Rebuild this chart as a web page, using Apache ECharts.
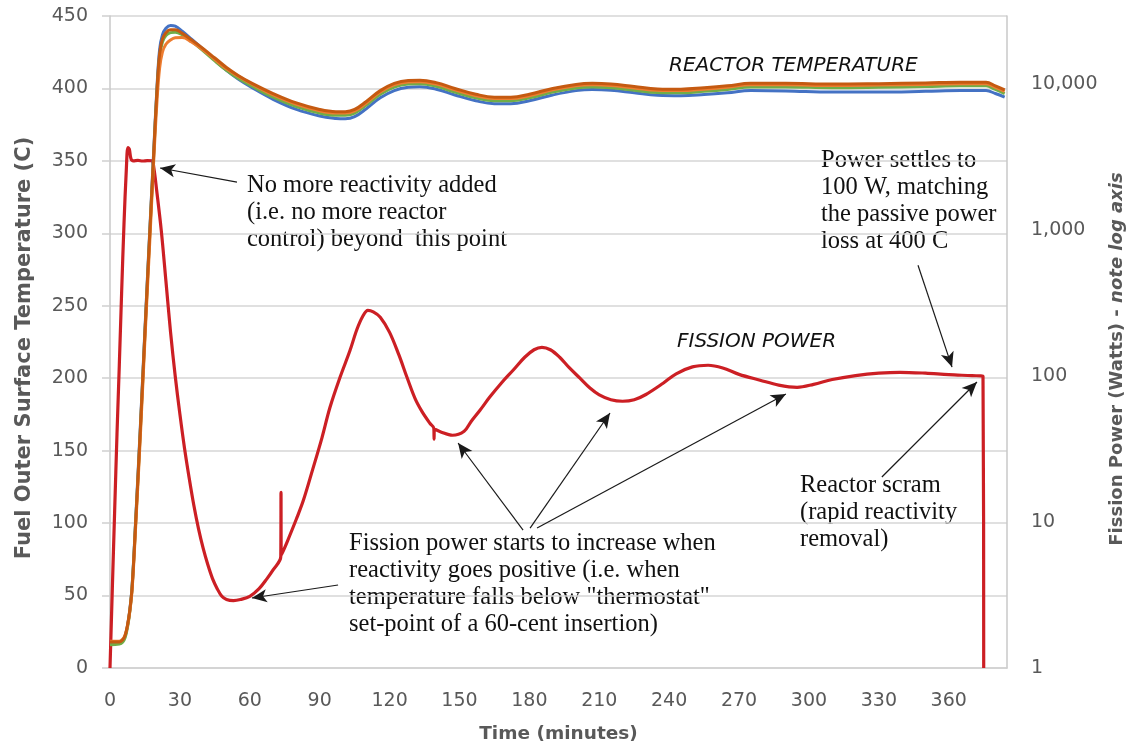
<!DOCTYPE html>
<html>
<head>
<meta charset="utf-8">
<script src="https://cdn.jsdelivr.net/npm/echarts@6/dist/echarts.min.js"></script>
<style>html,body{margin:0;padding:0;background:#fff;}#c{width:1131px;height:748px;}</style>
</head>
<body>
<div id="c"></div>
<script>
// ---- data (time in minutes) ----
const fissionPower = [[0,1],[1,3.5],[2,12],[3,40],[4,120],[5,380],[6,1100],[7,2600],[7.7,3700],[8.3,3600],[9,3100],[10,3000],[12,3020],[14,2990],[16,3010],[18,3000],[18.8,2700],[20,1900],[22,1000],[24,450],[26,200],[28,100],[30,55],[32,32],[34,20],[36,13],[38,9],[40,6.6],[42,5.1],[44,4.1],[46,3.5],[48,3.1],[50,2.95],[53,2.9],[56,2.95],[60,3.1],[64,3.5],[67.4,4.1],[70,4.7],[73.3,5.8],[73.4,16],[73.5,5.9],[76,7.3],[80,10.5],[83,14.1],[87,23],[91,38],[94.4,61],[98.7,98],[103,150],[106,210],[108.5,258],[110.7,283],[113,276],[116,254],[120,200],[124,140],[127.5,98],[131,70],[134,57],[137.3,47.6],[139,44],[139.1,37],[139.2,43.5],[142,41.5],[147,39.4],[152,42],[155,49],[158.8,58.5],[163,72],[168,90],[173,110],[178,135],[182,152],[185.4,158],[189,152],[193,135],[197,115],[201.7,97],[206,83],[210,74.5],[215,69],[220,67.4],[225,69],[230,75],[237.4,89.6],[243,104],[250,116],[256.7,119],[263,114],[270,103],[279,94],[287,87],[294.9,84],[302,88],[310,95],[320,101],[330,105],[339,106.5],[350,105],[360,102.5],[370,101],[374.7,100],[375,1]];

const tempBlue = [[0,17],[4,17.5],[5.5,19],[6.5,22],[7.5,29],[8.5,40],[9.5,57],[11,102],[13,166],[15,234],[17,300],[18.7,355],[20.2,402],[21.3,427],[22.5,437],[24,441.5],[26,443.5],[28,443],[31,439.5],[35,434],[40,427],[45,419.5],[50,412.5],[55,406.5],[61,400.5],[70,392.5],[80,385.5],[90,381],[97,379.3],[101,379],[105,380.5],[110,386],[116,393.5],[122,398.5],[128,400.8],[133,401.2],[140,399.5],[148,395.5],[157,391.5],[165,389.5],[172,389.5],[180,391.5],[190,395.5],[200,398.5],[207,399.3],[215,398.8],[225,397],[235,395.3],[245,395],[255,395.8],[265,397],[275,398.5],[290,398.3],[310,397.5],[330,397.5],[350,398],[365,398.5],[376,398.5],[380,396.5],[384,394]];

const tempGreen = [[0,16],[4,16.5],[5.5,18],[6.5,21],[7.5,28],[8.5,39],[9.5,56],[11,100],[13,163],[15,231],[17,297],[18.7,352],[20.2,399],[21.3,422],[22.5,432],[24,436.5],[26,438.5],[28,438.8],[31,437],[35,432.5],[40,426],[45,419],[50,412.5],[55,407],[61,401.5],[70,394],[80,387.5],[90,383],[97,381.5],[101,381.5],[105,383],[110,388.5],[116,396],[122,401],[128,403],[133,403.2],[140,401.5],[148,397.5],[157,393.5],[165,391.5],[172,391.5],[180,393.5],[190,397.5],[200,400.3],[207,401],[215,400.5],[225,398.8],[235,397.2],[245,397],[255,398],[265,399.3],[275,401],[290,401],[310,400.5],[330,400.8],[350,401.3],[365,401.8],[376,401.8],[380,399.3],[384,396.5]];

const tempOrange = [[0,18.5],[4,18.5],[5.5,20],[6.5,23],[7.5,29],[8.5,39],[9.5,54],[11,97],[13,159],[15,227],[17,292],[18.7,348],[20.2,392],[21.3,414],[22.5,425],[24,430.5],[26,433.5],[28,435],[31,435.2],[35,432],[40,426.5],[45,420],[50,413.5],[55,408.5],[61,403],[70,395.5],[80,389],[90,384.5],[97,383],[101,383],[105,384.5],[110,390],[116,397.5],[122,402.5],[128,404.5],[133,404.7],[140,403],[148,399],[157,395],[165,393],[172,393],[180,395],[190,399],[200,401.8],[207,402.5],[215,402],[225,400.3],[235,398.7],[245,398.5],[255,399.5],[265,400.8],[275,402.5],[290,402.5],[310,402],[330,402.3],[350,402.8],[365,403.3],[376,403.3],[380,400.8],[384,398]];

const tempBrown = [[0,18],[4,18],[5.5,19.5],[6.5,22.5],[7.5,29.5],[8.5,40],[9.5,56],[11,100],[13,164],[15,232],[17,298],[18.7,353],[20.2,400],[21.3,424],[22.5,434],[24,438.5],[26,440.5],[28,440.5],[31,438],[35,433.5],[40,427.5],[45,421],[50,414.5],[55,409],[61,403.5],[70,396.5],[80,390],[90,385.5],[97,384],[101,384],[105,385.5],[110,391],[116,398.5],[122,403.5],[128,405.5],[133,405.7],[140,404],[148,400],[157,396],[165,394],[172,394],[180,396],[190,400],[200,402.8],[207,403.5],[215,403],[225,401.3],[235,399.7],[245,399.5],[255,400.5],[265,401.8],[275,403.5],[290,403.5],[310,403],[330,403.3],[350,403.8],[365,404.3],[376,404.3],[380,401.8],[384,399]];

// annotation arrows: [tail(time, temp), head(time, temp)] in left-axis data space
const arrows = [
  [[54.5,335.4],[21.5,345.1]],
  [[346.8,278],[361.4,207.7]],
  [[331.3,131.8],[372.1,197.4]],
  [[177.3,95.2],[149.4,155.3]],
  [[180.3,96.6],[214.6,176]],
  [[183.3,96.6],[290.1,189.1]],
  [[97.9,57.3],[60.9,48.3]]
];

const notes = {
  control: 'No more reactivity added\n(i.e. no more reactor\ncontrol) beyond  this point',
  settles: 'Power settles to\n100 W, matching\nthe passive power\nloss at 400 C',
  scram: 'Reactor scram\n(rapid reactivity\nremoval)',
  increase: 'Fission power starts to increase when\nreactivity goes positive (i.e. when\ntemperature falls below "thermostat"\nset-point of a 60-cent insertion)',
  reactorT: 'REACTOR TEMPERATURE',
  fission: 'FISSION POWER'
};

const chart = echarts.init(document.getElementById('c'), null, {renderer: 'canvas'});
const axisFont = {fontFamily: 'DejaVu Sans', fontSize: 19, color: '#595959'};
const serif = {fontFamily: 'Liberation Serif', fontSize: 24.5, lineHeight: 27, fill: '#111'};
const italicSans = {fontFamily: 'DejaVu Sans', fontStyle: 'italic', fontSize: 20, fill: '#111'};

function tempSeries(name, data, color) {
  return {
    name, type: 'line', data, yAxisIndex: 0, symbol: 'none', smooth: 0.4,
    lineStyle: {color, width: 3}, z: 3, silent: true
  };
}

const series = [
  {
    name: 'Fission Power', type: 'line', data: fissionPower, yAxisIndex: 1,
    symbol: 'none', smooth: 0.35, lineStyle: {color: '#CC1F24', width: 3.2}, z: 2, silent: true
  },
  tempSeries('T1', tempBlue, '#4472C4'),
  tempSeries('T2', tempGreen, '#70AD47'),
  tempSeries('T3', tempOrange, '#ED7D31'),
  tempSeries('T4', tempBrown, '#C55A11')
];
series[1].markLine = {
  silent: true, animation: false,
  symbol: ['none', 'arrow'], symbolSize: [10, 15],
  label: {show: false},
  lineStyle: {color: '#1a1a1a', width: 1.2, type: 'solid'},
  data: arrows.map(a => [{coord: a[0]}, {coord: a[1]}])
};

chart.setOption({
  animation: false,
  backgroundColor: '#fff',
  grid: {left: 110, right: 124, top: 16, bottom: 80, containLabel: false, outerBoundsMode: 'none'},
  xAxis: {
    type: 'value', min: 0, max: 385, interval: 30,
    name: 'Time (minutes)', nameLocation: 'middle', nameGap: 57,
    nameTextStyle: {fontFamily: 'DejaVu Sans', fontSize: 18.5, fontWeight: 'bold', color: '#595959'},
    axisLine: {show: true, lineStyle: {color: '#d0d0d0', width: 1.5}},
    axisTick: {show: false},
    splitLine: {show: false},
    axisLabel: Object.assign({margin: 24, showMaxLabel: false}, axisFont)
  },
  yAxis: [
    {
      type: 'value', min: 0, max: 450, interval: 50, position: 'left',
      name: 'Fuel Outer Surface Temperature (C)', nameLocation: 'middle', nameGap: 75,
      nameTextStyle: {fontFamily: 'DejaVu Sans', fontSize: 21, fontWeight: 'bold', color: '#595959', padding: [0, 12, 0, 0]},
      axisLine: {show: true, lineStyle: {color: '#c8c8c8', width: 1.5}},
      axisTick: {show: true, length: 8, lineStyle: {color: '#d0d0d0', width: 1.5}},
      splitLine: {show: true, lineStyle: {color: '#d6d6d6', width: 1.5}},
      axisLabel: Object.assign({margin: 22}, axisFont)
    },
    {
      type: 'log', logBase: 10, min: 1, max: 29500, position: 'right',
      name: '{a|Fission Power (Watts) - }{b|note log axis}', nameLocation: 'middle', nameGap: 100,
      nameTextStyle: {
        padding: [0, 34, 0, 0],
        rich: {
          a: {fontFamily: 'DejaVu Sans', fontSize: 18, fontWeight: 'bold', color: '#595959'},
          b: {fontFamily: 'DejaVu Sans', fontSize: 18, fontWeight: 'bold', fontStyle: 'italic', color: '#595959'}
        }
      },
      axisLine: {show: true, lineStyle: {color: '#c8c8c8', width: 1.5}},
      axisTick: {show: false},
      splitLine: {show: false},
      axisLabel: Object.assign({
        margin: 24, showMaxLabel: false,
        formatter: v => Math.round(v).toLocaleString('en-US')
      }, axisFont)
    }
  ],
  series,
  graphic: [
    {type: 'text', left: 247, top: 172, silent: true, style: Object.assign({text: notes.control}, serif)},
    {type: 'text', left: 821, top: 147, silent: true, style: Object.assign({text: notes.settles}, serif)},
    {type: 'text', left: 800, top: 472, silent: true, style: Object.assign({text: notes.scram}, serif)},
    {type: 'text', left: 349, top: 530, silent: true, style: Object.assign({text: notes.increase}, serif)},
    {type: 'text', left: 669, top: 56, silent: true, style: Object.assign({text: notes.reactorT}, italicSans)},
    {type: 'text', left: 677, top: 332, silent: true, style: Object.assign({text: notes.fission}, italicSans)}
  ]
});
</script>
</body>
</html>
